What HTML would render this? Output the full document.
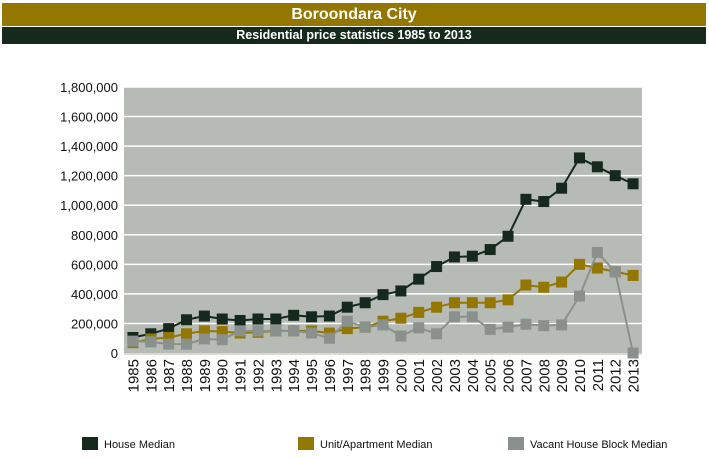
<!DOCTYPE html>
<html><head><meta charset="utf-8"><style>
body{margin:0;width:709px;height:459px;background:#fff;font-family:"Liberation Sans",Arial,sans-serif;overflow:hidden;position:relative}
.t1{position:absolute;left:2px;top:3px;width:704px;height:23px;background:#937700;color:#fff;font-weight:bold;font-size:16px;text-align:center;line-height:23px}
.t2{position:absolute;left:2px;top:27px;width:704px;height:17px;background:#152a1c;color:#fff;font-weight:bold;font-size:12.5px;text-align:center;line-height:17px}
</style></head><body>
<div class="t1">Boroondara City</div>
<div class="t2">Residential price statistics 1985 to 2013</div>
<svg id="c" width="709" height="459" style="position:absolute;left:0;top:0"></svg>
<script>
const years=[1985,1986,1987,1988,1989,1990,1991,1992,1993,1994,1995,1996,1997,1998,1999,2000,2001,2002,2003,2004,2005,2006,2007,2008,2009,2010,2011,2012,2013];
const house=[105,130,165,225,250,230,220,230,230,255,245,250,310,340,395,420,500,585,650,655,700,790,1040,1025,1115,1320,1260,1200,1145];
const unit=[70,95,105,130,150,145,135,140,150,150,150,135,165,175,215,235,275,310,340,340,340,360,460,445,480,600,575,550,525];
const vacant=[80,75,60,60,95,90,150,150,150,150,135,100,215,175,190,115,170,130,245,245,160,175,195,185,190,385,680,550,0];
const yTicks=[0,200000,400000,600000,800000,1000000,1200000,1400000,1600000,1800000];
const tickLabels=["0","200,000","400,000","600,000","800,000","1,000,000","1,200,000","1,400,000","1,600,000","1,800,000"];
const seriesNames=["House Median","Unit/Apartment Median","Vacant House Block Median"];
const L=124,R=642,T=87,B=353,NS="http://www.w3.org/2000/svg";
const svg=document.getElementById('c');
const step=(R-L)/years.length;
const xs=i=>L+step*(i+0.5);
const ys=v=>B-(v/1800000)*(B-T);
function mk(t,a,p){const e=document.createElementNS(NS,t);for(const k in a)e.setAttribute(k,a[k]);(p||svg).appendChild(e);return e;}
const bg=mk('rect',{x:L,y:T,width:R-L,height:B-T,fill:'#b7bbb6'});


mk('rect',{x:L,y:B,width:R-L,height:2,fill:'#d8dad6'});
yTicks.forEach((v,i)=>{
 if(i>0){const g=mk('line',{x1:L,x2:R,y1:ys(v),y2:ys(v),stroke:'#fff','stroke-width':1.5});
 
 }
 const t=mk('text',{x:L-6,y:ys(v)+5,'text-anchor':'end','font-size':13,fill:'#111'});
 t.textContent=tickLabels[i];
 
 
});
years.forEach((y,i)=>{
 const t=mk('text',{transform:`translate(${xs(i)+5.5},359) rotate(-90)`,'text-anchor':'end','font-size':15,fill:'#111'});
 t.textContent=y;
 
 
});
const cols=['#152a1c','#937700','#8a918c'];
[house,unit,vacant].forEach((d,ci)=>{
 const pts=d.map((v,i)=>xs(i)+','+ys(v*1000)).join(' ');
 const pl=mk('polyline',{points:pts,fill:'none',stroke:cols[ci],'stroke-width':2});
 
 
 d.forEach((v,i)=>{
  const r=mk('rect',{x:xs(i)-5.5,y:ys(v*1000)-5.5,width:11,height:11,fill:cols[ci]});
  
  
 });
});
const lx=[82,298,508];
seriesNames.forEach((n,i)=>{
 const r=mk('rect',{x:lx[i],y:437,width:16,height:13,fill:cols[i]});
 
 
 const t=mk('text',{x:lx[i]+22,y:448,'font-size':11,fill:'#111'});
 t.textContent=n;
 
 
});
</script>
</body></html>
